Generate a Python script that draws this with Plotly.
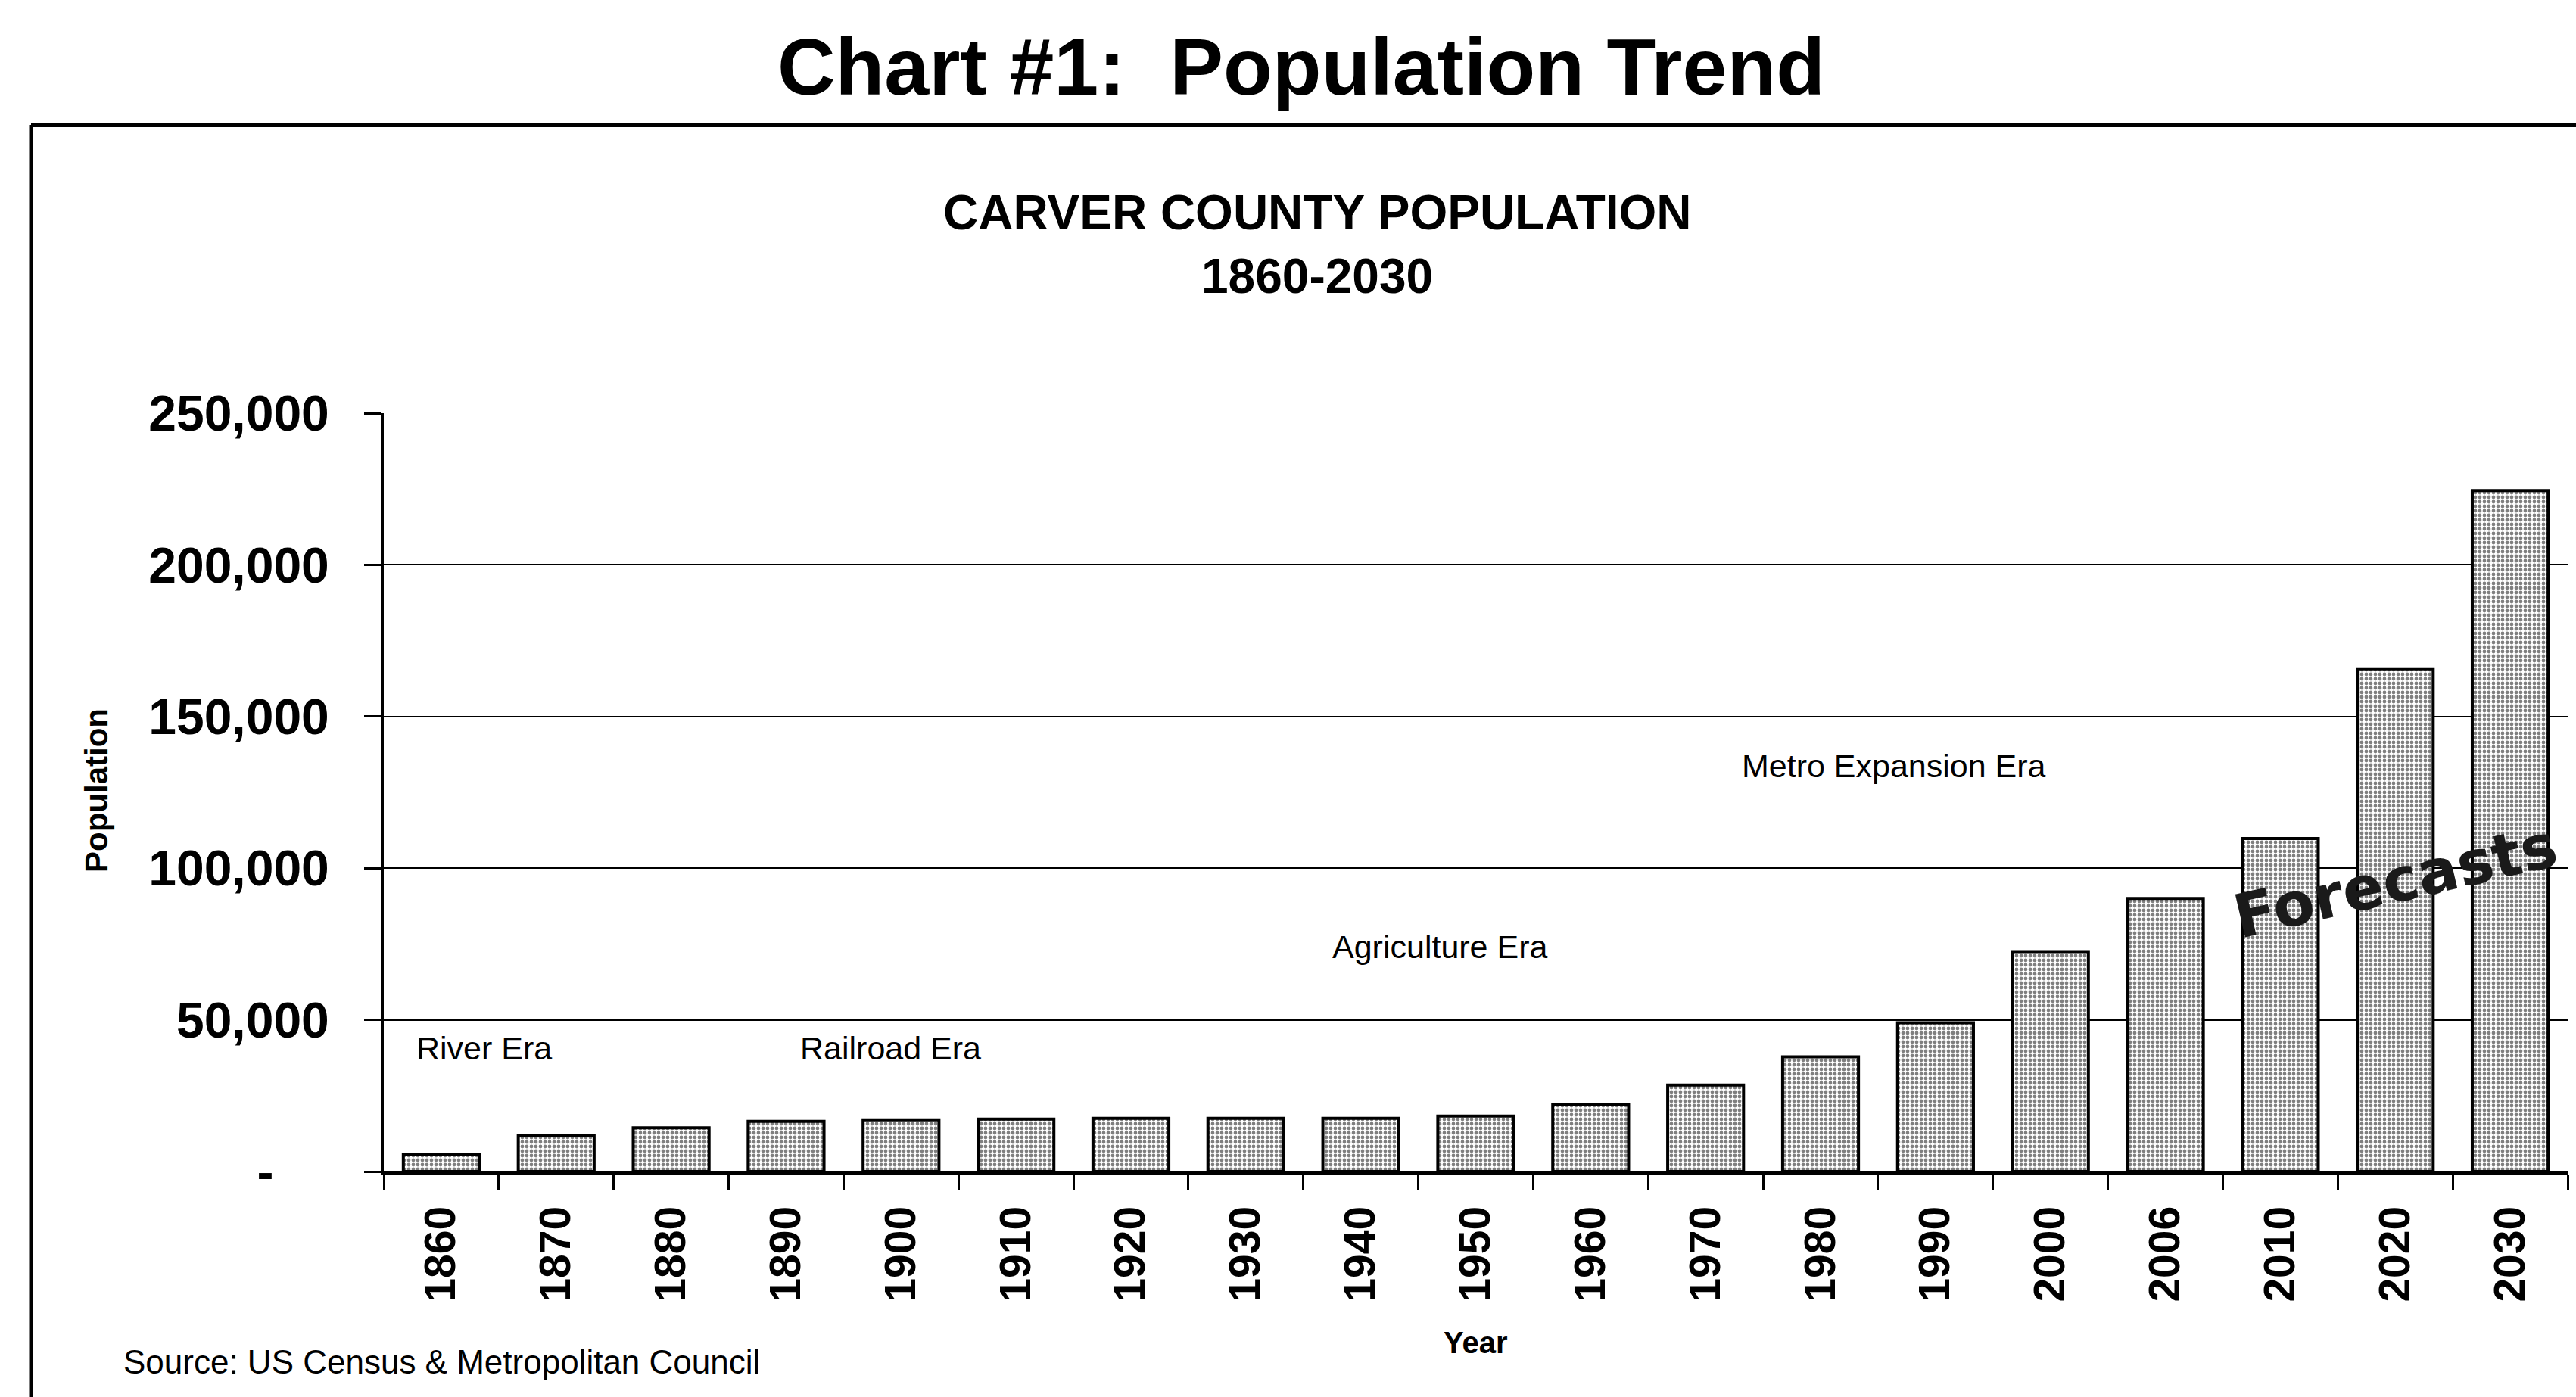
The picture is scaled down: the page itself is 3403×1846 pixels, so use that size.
import plotly.graph_objects as go

# Carver County population by census year (2010-2030 are forecasts)
years = ["1860", "1870", "1880", "1890", "1900", "1910", "1920", "1930", "1940", "1950",
         "1960", "1970", "1980", "1990", "2000", "2006", "2010", "2020", "2030"]
population = [5500, 11900, 14400, 16500, 17000, 17300, 17500, 17500, 17500, 18300,
              22000, 28500, 37800, 49000, 72500, 90000, 109800, 165500, 224500]

y_ticks = [0, 50000, 100000, 150000, 200000, 250000]
y_tick_text = ["-\u2007\u2007", "50,000", "100,000", "150,000", "200,000", "250,000"]

# era labels: (text, category position, population level)
era_text = ["River Era", "Railroad Era", "Agriculture Era", "Metro Expansion Era"]
era_x = [0.37, 3.91, 8.69, 12.64]
era_y = [40700, 40700, 74100, 133700]

W, H = 3403, 1846
L, R, T, B = 507, 11, 546, 298
PW, PH = W - L - R, H - T - B

FONT = "Liberation Sans, Arial, sans-serif"


def px_to_paper(x, y):
    return (x - L) / PW, (H - B - y) / PH


fig = go.Figure()
fig.add_trace(go.Bar(
    x=years, y=population,
    marker=dict(
        color="white",
        line=dict(color="black", width=4),
        pattern=dict(shape=".", fgcolor="#000000", bgcolor="#ffffff", size=6, solidity=0.5),
    ),
    width=0.66,
    showlegend=False,
))

annotations = []
for t, x, y in zip(era_text, era_x, era_y):
    annotations.append(dict(x=x, y=y, xref="x", yref="y", text=t, showarrow=False,
                            font=dict(family=FONT, size=43, color="black"),
                            xanchor="center", yanchor="middle"))

# decorative forecast label across the projected years
annotations.append(dict(x=17.0, y=95600, xref="x", yref="y", text="<b>Forecasts</b>",
                        showarrow=False, textangle=-13,
                        font=dict(family="DejaVu Sans, sans-serif", size=80, color="#1a1a1a"),
                        xanchor="center", yanchor="middle"))

# inner chart titles
for txt, cy in [("<b>CARVER COUNTY POPULATION</b>", 281), ("<b>1860-2030</b>", 365)]:
    px, py = px_to_paper(1740, cy)
    annotations.append(dict(x=px, y=py, xref="paper", yref="paper", text=txt, showarrow=False,
                            font=dict(family=FONT, size=64, color="black"),
                            xanchor="center", yanchor="middle"))

# axis titles
px, py = px_to_paper(127, 1045)
annotations.append(dict(x=px, y=py, xref="paper", yref="paper", text="<b>Population</b>",
                        showarrow=False, textangle=-90,
                        font=dict(family=FONT, size=42, color="black"),
                        xanchor="center", yanchor="middle"))
px, py = px_to_paper(1949, 1774)
annotations.append(dict(x=px, y=py, xref="paper", yref="paper", text="<b>Year</b>",
                        showarrow=False, font=dict(family=FONT, size=40, color="black"),
                        xanchor="center", yanchor="middle"))

# source note
px, py = px_to_paper(161, 1799)
annotations.append(dict(x=px, y=py, xref="paper", yref="paper",
                        text="Source: US Census & Metropolitan Council",
                        showarrow=False, font=dict(family=FONT, size=44, color="black"),
                        xanchor="left", yanchor="middle"))

# frame around the chart: heavy top rule and left edge
x0, y0 = px_to_paper(41, 165)
x1, y1 = px_to_paper(W + 5, H + 5)
shapes = [
    dict(type="line", xref="paper", yref="paper", x0=x0, x1=x1, y0=y0, y1=y0,
         line=dict(color="black", width=6)),
    dict(type="line", xref="paper", yref="paper", x0=x0, x1=x0, y0=y0, y1=y1,
         line=dict(color="black", width=5)),
]

fig.update_layout(
    width=W, height=H,
    margin=dict(l=L, r=R, t=T, b=B, autoexpand=False),
    paper_bgcolor="white", plot_bgcolor="white",
    title=dict(text="<b>Chart #1:\u00a0 Population Trend</b>", x=1719 / W, xanchor="center",
               y=1 - 88 / H, yanchor="middle",
               font=dict(family=FONT, size=106, color="black")),
    annotations=annotations,
    shapes=shapes,
    bargap=0.34,
    font=dict(family=FONT, color="black"),
)

fig.update_xaxes(
    type="category",
    range=[-0.5, len(years) - 0.5],
    showline=True, linecolor="black", linewidth=5,
    ticks="outside", tickson="boundaries", ticklen=20, tickwidth=3, tickcolor="black",
    tickangle=-90,
    tickfont=dict(family=FONT, size=57, color="black", weight="bold"),
    ticklabelstandoff=18,
    showgrid=False,
)

fig.update_yaxes(
    range=[0, 250000],
    tickvals=y_ticks, ticktext=y_tick_text,
    showline=True, linecolor="black", linewidth=4,
    ticks="outside", ticklen=22, tickwidth=3, tickcolor="black",
    tickfont=dict(family=FONT, size=66, color="black", weight="bold"),
    ticklabelstandoff=33,
    showgrid=True, gridcolor="black", gridwidth=2,
    zeroline=False,
)

fig.write_html("out.html")
